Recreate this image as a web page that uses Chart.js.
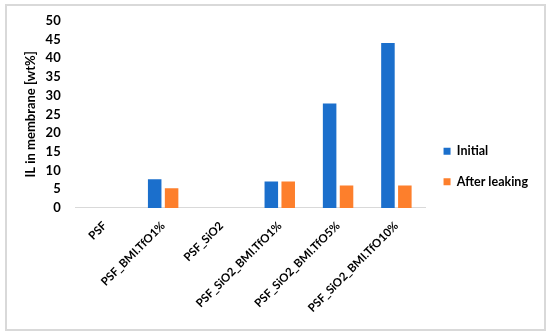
<!DOCTYPE html>
<html>
<head>
<meta charset="utf-8">
<script src="https://cdn.jsdelivr.net/npm/chart.js@4.4.0/dist/chart.umd.min.js"></script>
<style>
  body { margin: 0; background: #fff; }
  #wrap { position: absolute; left: 5px; top: 4px; width: 537px; height: 323px; border: 2px solid #d9d9d9; background: #fff; }
</style>
</head>
<body>
<div id="wrap"><canvas id="barChart" width="537" height="323"></canvas></div>
<script>
// membrane samples on the x axis
const categories = ['PSF', 'PSF_BMI.TfO1%', 'PSF_SiO2', 'PSF_SiO2_BMI.TfO1%', 'PSF_SiO2_BMI.TfO5%', 'PSF_SiO2_BMI.TfO10%'];
// IL content [wt%]
const initialValues = [0, 7.7, 0, 7.1, 27.9, 44.1];
const afterLeakingValues = [0, 5.3, 0, 7.1, 6.0, 6.0];

const fontFamily = "Lato, 'Open Sans', sans-serif";

document.addEventListener('DOMContentLoaded', () => {
    const ctx = document.getElementById('barChart').getContext('2d');
    new Chart(ctx, {
        type: 'bar',
        data: {
            labels: categories,
            datasets: [{
                label: 'Initial',
                data: initialValues,
                backgroundColor: '#1b6fcc',
                categoryPercentage: 0.58,
                barPercentage: 0.8
            }, {
                label: 'After leaking',
                data: afterLeakingValues,
                backgroundColor: '#fd7f2c',
                categoryPercentage: 0.58,
                barPercentage: 0.8
            }]
        },
        options: {
            responsive: false,
            animation: false,
            layout: { padding: { left: 16, right: 6, top: 9, bottom: 11 } },
            plugins: {
                legend: {
                    position: 'right',
                    labels: {
                        boxWidth: 7,
                        boxHeight: 7,
                        padding: 18,
                        color: '#000',
                        font: { family: fontFamily, size: 12.5, weight: 'bold' }
                    }
                },
                tooltip: { enabled: false }
            },
            scales: {
                x: {
                    grid: { display: false },
                    border: { color: '#d9d9d9', width: 1 },
                    ticks: {
                        minRotation: 45,
                        maxRotation: 45,
                        color: '#000',
                        font: { family: fontFamily, size: 11.5, weight: 'bold' }
                    }
                },
                y: {
                    min: 0,
                    max: 50,
                    grid: { display: false },
                    border: { display: false },
                    ticks: {
                        stepSize: 5,
                        autoSkip: false,
                        color: '#000',
                        padding: 7,
                        font: { family: fontFamily, size: 13, weight: 'bold' }
                    },
                    title: {
                        display: true,
                        text: 'IL in membrane [wt%]',
                        color: '#000',
                        padding: 0,
                        font: { family: fontFamily, size: 13, weight: 'bold' }
                    }
                }
            }
        }
    });
});
</script>
</body>
</html>
